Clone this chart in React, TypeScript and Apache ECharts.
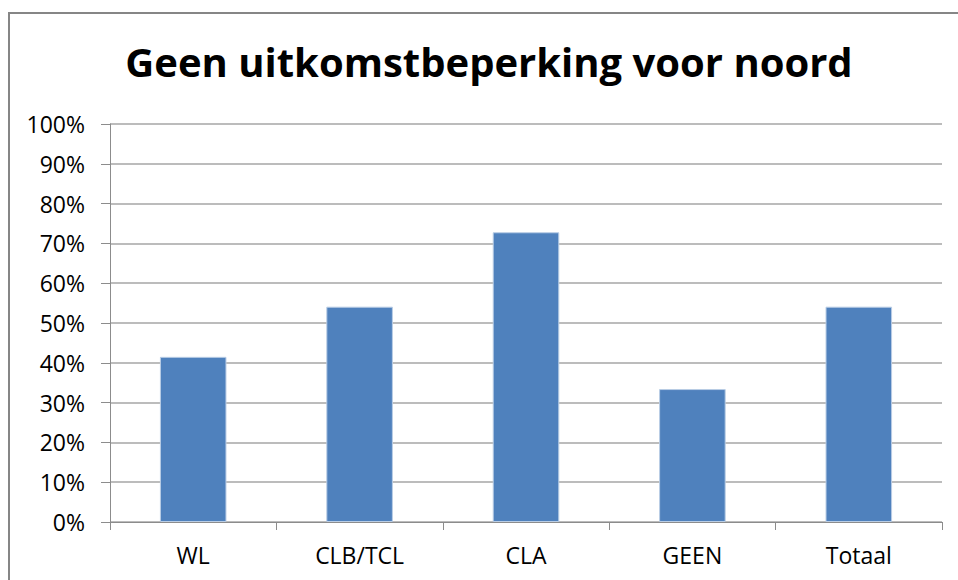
import React, { useEffect, useRef } from "react";
import * as echarts from "echarts";

const categories = ["WL", "CLB/TCL", "CLA", "GEEN", "Totaal"];
const values = [41.5, 54.1, 72.8, 33.4, 54.1];
const titleText = "Geen uitkomstbeperking voor noord";

export default function App() {
  const ref = useRef<HTMLDivElement>(null);
  useEffect(() => {
    if (!ref.current) return;
    const chart = echarts.init(ref.current, null, { renderer: "svg" });
    chart.setOption({
      animation: false,
      backgroundColor: "#ffffff",
      title: {
        text: titleText,
        left: 484,
        textAlign: "center",
        top: 36,
        textStyle: {
          fontFamily: "Open Sans",
          fontWeight: "bold",
          fontSize: 40,
          color: "#000000",
        },
      },
      graphic: [
        {
          type: "rect",
          shape: { x: 9, y: 13, width: 1200, height: 1200 },
          style: { fill: "none", stroke: "#868686", lineWidth: 2 },
          silent: true,
        },
      ],
      grid: { left: 110, right: 16, top: 124, bottom: 58 },
      xAxis: {
        type: "category",
        data: categories,
        axisLine: { show: true, lineStyle: { color: "#8c8c8c", width: 1 } },
        axisTick: { show: true, length: 8, lineStyle: { color: "#8c8c8c" } },
        axisLabel: {
          margin: 21,
          fontSize: 23,
          fontFamily: "Open Sans",
          color: "#000000",
        },
      },
      yAxis: {
        type: "value",
        min: 0,
        max: 100,
        interval: 10,
        axisLine: { show: true, lineStyle: { color: "#8c8c8c", width: 1 } },
        axisTick: { show: true, length: 9, lineStyle: { color: "#8c8c8c" } },
        axisLabel: {
          formatter: "{value}%",
          margin: 25,
          fontSize: 23,
          fontFamily: "Open Sans",
          color: "#000000",
        },
        splitLine: { show: true, lineStyle: { color: "#a6a6a6", width: 1.5 } },
      },
      series: [
        {
          type: "bar",
          data: values,
          barCategoryGap: "60%",
          itemStyle: {
            color: "#4f81bd",
            borderColor: "#b9cde5",
            borderWidth: 1,
          },
        },
      ],
    });
    return () => chart.dispose();
  }, []);
  return (
    <div
      ref={ref}
      style={{ position: "fixed", left: 0, top: 0, width: 958, height: 580 }}
    />
  );
}
